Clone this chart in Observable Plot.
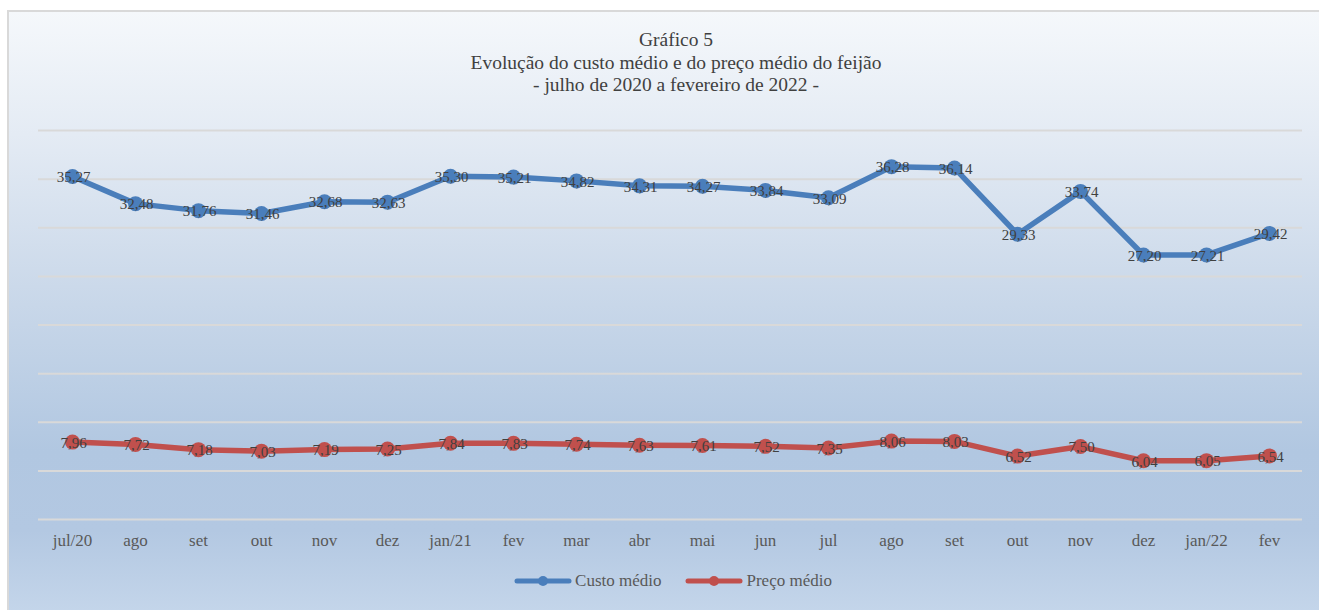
<!DOCTYPE html>
<html>
<head>
<meta charset="utf-8">
<script src="https://cdn.jsdelivr.net/npm/d3@7"></script>
<script src="https://cdn.jsdelivr.net/npm/@observablehq/plot@0.6"></script>
<style>
  html, body { margin: 0; padding: 0; background: #ffffff; }
  #page { position: relative; width: 1319px; height: 610px; overflow: hidden; background: #ffffff; }
  #frame {
    position: absolute; left: 7px; top: 10px; width: 1320px; height: 610px;
    border-left: 2px solid #d9d9d9; border-top: 2px solid #d9d9d9;
    background: linear-gradient(to bottom, #f5f8fb 0%, #e4ebf4 20%, #cbd9ea 45%, #b1c7e1 72%, #b3c8e2 85%, #c6d7eb 100%);
  }
  #title {
    position: absolute; left: 0; top: 29px; width: 1352px; text-align: center;
    font-family: "Liberation Serif", "DejaVu Serif", serif; font-size: 19.5px; line-height: 22.5px; color: #404040;
  }
  #chart { position: absolute; left: 0; top: 110px; }
  #legend {
    position: absolute; left: 0; top: 571px; width: 1346px; display: flex; justify-content: center; gap: 24px;
    font-family: "Liberation Serif", "DejaVu Serif", serif; font-size: 17px; color: #595959; align-items: center;
  }
  .item { display: flex; align-items: center; gap: 3px; font-family: "Liberation Serif", serif; }
</style>
</head>
<body>
<div id="page">
  <div id="frame"></div>
  <div id="title">Gráfico 5<br>Evolução do custo médio e do preço médio do feijão<br>- julho de 2020 a fevereiro de 2022 -</div>
  <div id="chart"></div>
  <div id="legend"></div>
</div>
<script>
const months = ["jul/20","ago","set","out","nov","dez","jan/21","fev","mar","abr","mai","jun","jul","ago ","set ","out ","nov ","dez ","jan/22","fev "];
const custoMedio = [35.27,32.48,31.76,31.46,32.68,32.63,35.30,35.21,34.82,34.31,34.27,33.84,33.09,36.28,36.14,29.33,33.74,27.20,27.21,29.42];
const precoMedio = [7.96,7.72,7.18,7.03,7.19,7.25,7.84,7.83,7.74,7.63,7.61,7.52,7.35,8.06,8.03,6.52,7.50,6.04,6.05,6.54];
const seriesNames = ["Custo médio","Preço médio"];
const seriesColors = ["#4a7ebb","#c0504d"];
const gridValues = [0,5,10,15,20,25,30,35,40];

const rows = [];
months.forEach((m,i) => {
  rows.push({month: m, value: custoMedio[i], serie: seriesNames[0]});
  rows.push({month: m, value: precoMedio[i], serie: seriesNames[1]});
});
const fmt = v => v.toFixed(2).replace(".", ",");

const plot = Plot.plot({
  width: 1319,
  height: 450,
  marginTop: 20,
  marginBottom: 41,
  marginLeft: 38,
  marginRight: 17,
  style: {background: "transparent", fontFamily: "'Liberation Serif', 'DejaVu Serif', serif"},
  x: {type: "point", domain: months, padding: 0.5, label: null, axis: null},
  y: {domain: [0, 40], axis: null},
  color: {domain: seriesNames, range: seriesColors},
  marks: [
    Plot.ruleY(gridValues, {stroke: "#d9d9d9", strokeWidth: 2}),
    Plot.line(rows, {x: "month", y: "value", z: "serie", stroke: "serie", strokeWidth: 5.5, strokeLinejoin: "round"}),
    Plot.dot(rows, {x: "month", y: "value", fill: "serie", r: 7.5, stroke: null}),
    Plot.text(rows, {x: "month", y: "value", text: d => fmt(d.value), dx: 1, dy: 1, fill: "#404040", fontSize: 15}),
    Plot.axisX({tickSize: 0, tickPadding: 14, fontSize: 17, fill: "#595959", tickFormat: d => d.trim(), label: null})
  ]
});
document.getElementById("chart").appendChild(plot);

const legend = document.getElementById("legend");
seriesNames.forEach((n, i) => {
  const item = document.createElement("div");
  item.className = "item";
  item.innerHTML = `<svg width="58" height="14"><line x1="3" y1="7" x2="55" y2="7" stroke="${seriesColors[i]}" stroke-width="5" stroke-linecap="round"/><circle cx="29" cy="7" r="5" fill="${seriesColors[i]}"/></svg><span>${n}</span>`;
  legend.appendChild(item);
});
</script>
</body>
</html>
